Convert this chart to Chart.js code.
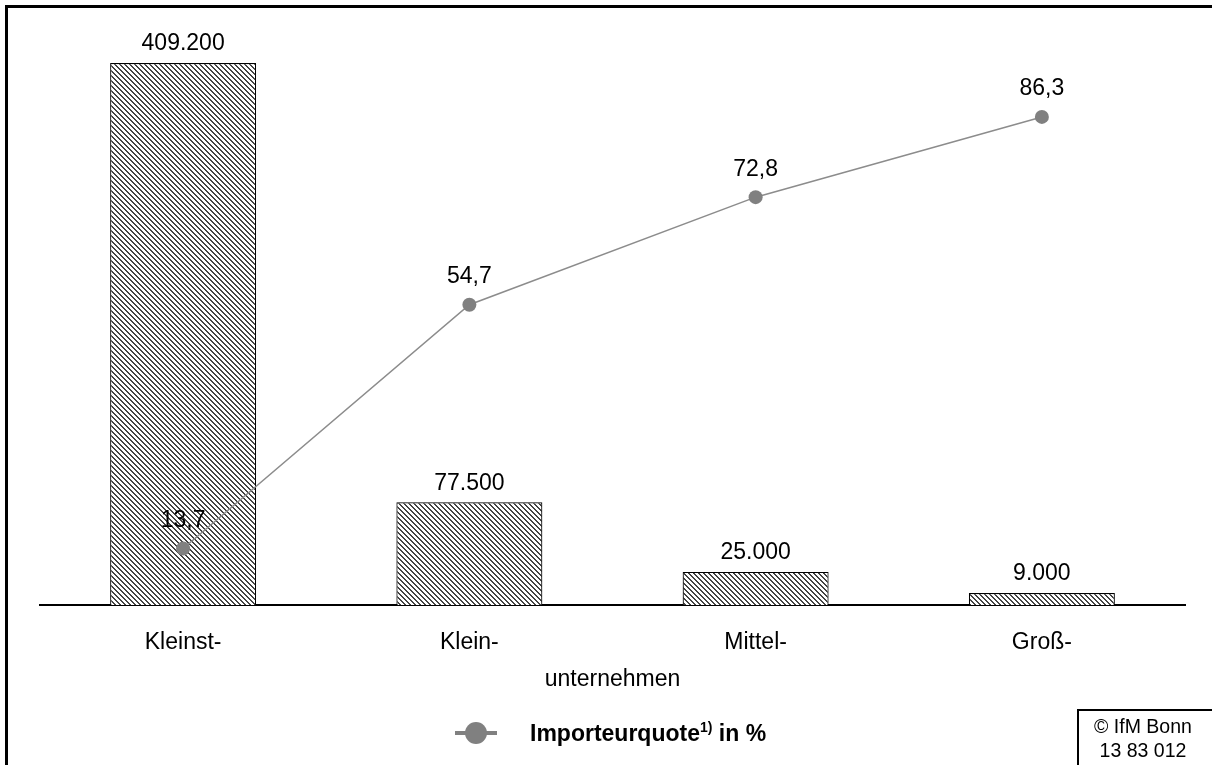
<!DOCTYPE html>
<html lang="de">
<head>
    <meta charset="UTF-8">
    <title>Importeure nach Unternehmensgröße</title>
    <style>
        body {
            margin: 0;
            background: #fff;
            font-family: Arial, "Liberation Sans", sans-serif;
        }

        #wrap {
            position: relative;
            width: 1212px;
            height: 765px;
            overflow: hidden;
        }

        #my-chart {
            position: absolute;
            left: 0;
            top: 0;
        }

        .frame {
            position: absolute;
            left: 5px;
            top: 5px;
            width: 1300px;
            height: 900px;
            border-left: 3px solid #000;
            border-top: 3px solid #000;
        }

        .legend {
            position: absolute;
            left: 455px;
            top: 720px;
            height: 26px;
        }

        .legend .ln {
            position: absolute;
            left: 0;
            top: 11px;
            width: 42px;
            height: 4px;
            background: #808080;
        }

        .legend .dot {
            position: absolute;
            left: 10px;
            top: 2px;
            width: 22px;
            height: 22px;
            border-radius: 50%;
            background: #808080;
        }

        .legend .txt {
            position: absolute;
            left: 75px;
            top: -1px;
            white-space: nowrap;
            font-weight: bold;
            font-size: 23px;
            color: #000;
        }

        .legend sup {
            font-size: 14px;
        }

        .copy {
            position: absolute;
            left: 1077px;
            top: 709px;
            width: 200px;
            height: 100px;
            border-left: 2px solid #000;
            border-top: 2px solid #000;
        }

        .copy div {
            width: 128px;
            text-align: center;
            font-size: 19.5px;
            line-height: 24px;
            padding-top: 3px;
        }
    </style>
</head>
<body>
    <div id="wrap">
        <canvas id="my-chart" width="1212" height="765"></canvas>
        <div class="frame"></div>
        <div class="legend">
            <div class="ln"></div>
            <div class="dot"></div>
            <div class="txt">Importeurquote<sup>1)</sup> in %</div>
        </div>
        <div class="copy"><div>© IfM Bonn<br>13 83 012</div></div>
    </div>

    <script src="https://cdn.jsdelivr.net/npm/chart.js"></script>
    <script>
        const categories = ['Kleinst-', 'Klein-', 'Mittel-', 'Groß-'];
        const importers = [409200, 77500, 25000, 9000];
        const importerRate = [13.7, 54.7, 72.8, 86.3];
        const axisTitle = 'unternehmen';

        const fmtInt = v => String(v).replace(/\B(?=(\d{3})+(?!\d))/g, '.');
        const fmtDec = v => v.toFixed(1).replace('.', ',');
        const FONT = 'Arial, "Liberation Sans", sans-serif';

        // hatch fill like the original (diagonal lines)
        const makeHatch = () => {
            const c = document.createElement('canvas');
            c.width = 5;
            c.height = 5;
            const g = c.getContext('2d');
            g.fillStyle = '#fff';
            g.fillRect(0, 0, 5, 5);
            g.fillStyle = '#444';
            for (let i = 0; i < 5; i++) {
                g.fillRect(i, i, 1, 1);
                g.fillRect((i + 1) % 5, i, 1, 1);
            }
            return g.createPattern(c, 'repeat');
        };

        const valueLabels = {
            id: 'valueLabels',
            afterDatasetsDraw(chart) {
                const ctx = chart.ctx;
                ctx.save();
                ctx.fillStyle = '#000';
                ctx.font = '23px ' + FONT;
                ctx.textAlign = 'center';
                ctx.textBaseline = 'middle';
                chart.data.datasets.forEach((ds, di) => {
                    const meta = chart.getDatasetMeta(di);
                    meta.data.forEach((el, i) => {
                        if (ds.type === 'bar') {
                            ctx.fillText(fmtInt(ds.data[i]), el.x, el.y - 19);
                        } else {
                            ctx.fillText(fmtDec(ds.data[i]), el.x, el.y - 28);
                        }
                    });
                });
                ctx.restore();
            }
        };

        const ctx = document.getElementById('my-chart').getContext('2d');
        new Chart(ctx, {
            data: {
                labels: categories,
                datasets: [{
                    type: 'line',
                    label: 'Importeurquote in %',
                    data: importerRate,
                    yAxisID: 'y2',
                    order: 0,
                    borderColor: '#8c8c8c',
                    borderWidth: 1.5,
                    pointRadius: 7,
                    pointBackgroundColor: '#808080',
                    pointBorderWidth: 0,
                    tension: 0
                }, {
                    type: 'bar',
                    label: 'Importeure',
                    data: importers,
                    yAxisID: 'y',
                    order: 1,
                    backgroundColor: makeHatch(),
                    borderColor: '#000',
                    borderWidth: 1.2,
                    barPercentage: 0.51,
                    categoryPercentage: 1
                }]
            },
            options: {
                responsive: false,
                animation: false,
                layout: {
                    padding: { left: 40, right: 27, top: 20, bottom: 0 }
                },
                plugins: {
                    legend: { display: false },
                    tooltip: { enabled: false }
                },
                scales: {
                    x: {
                        grid: { display: false, drawTicks: false },
                        border: { display: true, color: '#000', width: 2 },
                        ticks: {
                            color: '#000',
                            padding: 24,
                            font: { family: FONT, size: 23 }
                        },
                        title: {
                            display: true,
                            text: axisTitle,
                            color: '#000',
                            padding: { top: 0, bottom: 72 },
                            font: { family: FONT, size: 23 }
                        },
                        afterFit: s => { s.height = 160; }
                    },
                    y: {
                        display: false,
                        min: 0,
                        max: 441700
                    },
                    y2: {
                        display: false,
                        min: 4.2,
                        max: 102.6
                    }
                }
            },
            plugins: [valueLabels]
        });
    </script>
</body>
</html>
